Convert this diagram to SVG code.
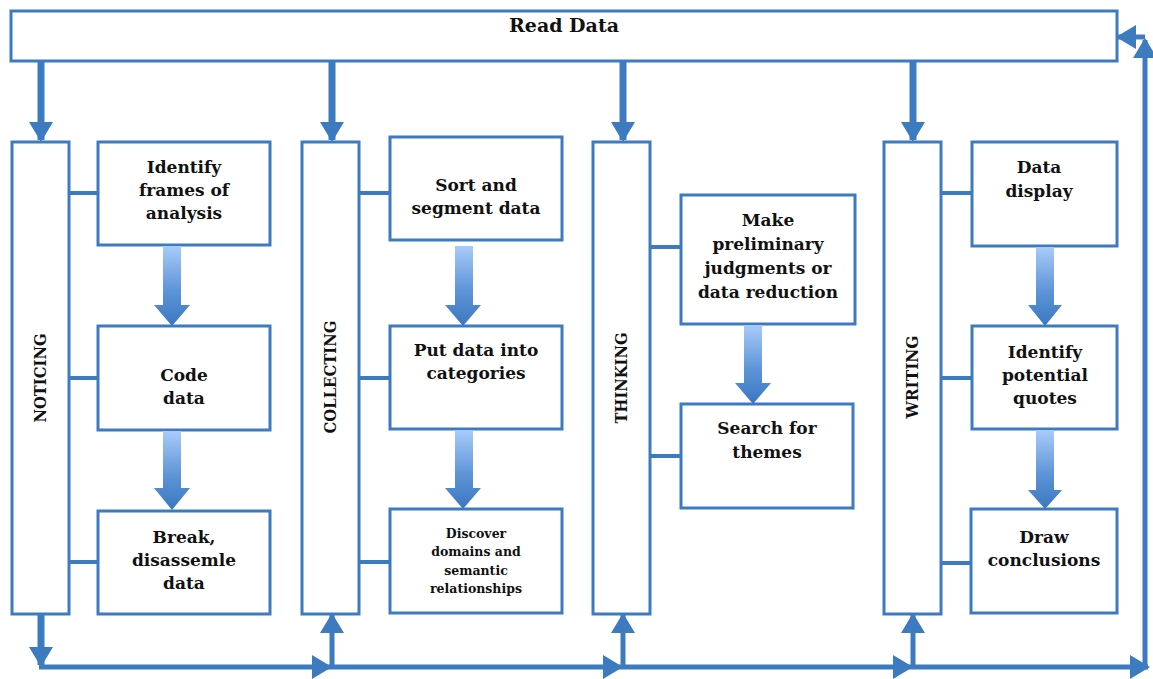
<svg xmlns="http://www.w3.org/2000/svg" width="1153" height="679" viewBox="0 0 1153 679">
  <style>
    .box { fill: #ffffff; stroke: #3d7bc1; stroke-width: 3; }
    .lbl { font-family: "DejaVu Serif", "Liberation Serif", serif; font-weight: bold; font-size: 17px; fill: #111111; text-anchor: middle; }
    .title { font-size: 19px; }
    .small { font-size: 12.5px; }
    .col { font-family: "DejaVu Serif", "Liberation Serif", serif; font-weight: bold; font-size: 17px; fill: #111111; text-anchor: middle; }
    .link { stroke: #3d7bc1; stroke-width: 4; fill: none; }
    .flow { stroke: #3d7bc1; stroke-width: 5; fill: none; }
    .feed { stroke: #3d7bc1; stroke-width: 7; fill: none; }
    .grad { fill: url(#stepGrad); }
  </style>
  <defs>
    <linearGradient id="stepGrad" x1="0" y1="0" x2="0" y2="1">
      <stop offset="0" stop-color="#a9cbfa"/>
      <stop offset="0.55" stop-color="#5f95d8"/>
      <stop offset="1" stop-color="#3a77c0"/>
    </linearGradient>
    <marker id="head" markerUnits="userSpaceOnUse" markerWidth="20" markerHeight="24" viewBox="0 0 20 24" refX="18" refY="12" orient="auto">
      <path d="M0,0 L20,12 L0,24 Z" fill="#3d7bc1"/>
    </marker>
  </defs>

  <!-- top: read data -->
  <g id="read-data">
    <rect class="box" x="11" y="11" width="1106" height="50"/>
    <text class="lbl title" x="564" y="32">Read Data</text>
  </g>

  <!-- phase columns (labels run bottom to top) -->
  <g id="noticing">
    <rect class="box" x="12" y="142" width="57" height="472"/>
    <text class="col" transform="translate(46,378) rotate(-90)" textLength="89" lengthAdjust="spacingAndGlyphs">NOTICING</text>
  </g>
  <g id="collecting">
    <rect class="box" x="302" y="142" width="57" height="472"/>
    <text class="col" transform="translate(336,377) rotate(-90)" textLength="113" lengthAdjust="spacingAndGlyphs">COLLECTING</text>
  </g>
  <g id="thinking">
    <rect class="box" x="593" y="142" width="57" height="472"/>
    <text class="col" transform="translate(627,378) rotate(-90)" textLength="91" lengthAdjust="spacingAndGlyphs">THINKING</text>
  </g>
  <g id="writing">
    <rect class="box" x="884" y="142" width="57" height="472"/>
    <text class="col" transform="translate(918,377) rotate(-90)" textLength="83" lengthAdjust="spacingAndGlyphs">WRITING</text>
  </g>

  <!-- noticing steps -->
  <g id="identify-frames">
    <rect class="box" x="98" y="142" width="172" height="103"/>
    <text class="lbl" x="184" y="173">Identify</text>
    <text class="lbl" x="184" y="196">frames of</text>
    <text class="lbl" x="184" y="219">analysis</text>
  </g>
  <g id="code-data">
    <rect class="box" x="98" y="326" width="172" height="104"/>
    <text class="lbl" x="184" y="381">Code</text>
    <text class="lbl" x="184" y="404">data</text>
  </g>
  <g id="break-data">
    <rect class="box" x="98" y="511" width="172" height="103"/>
    <text class="lbl" x="184" y="543">Break,</text>
    <text class="lbl" x="184" y="566">disassemle</text>
    <text class="lbl" x="184" y="589">data</text>
  </g>

  <!-- collecting steps -->
  <g id="sort-segment">
    <rect class="box" x="390" y="137" width="172" height="103"/>
    <text class="lbl" x="476" y="191">Sort and</text>
    <text class="lbl" x="476" y="214">segment data</text>
  </g>
  <g id="put-categories">
    <rect class="box" x="390" y="326" width="172" height="103"/>
    <text class="lbl" x="476" y="356">Put data into</text>
    <text class="lbl" x="476" y="379">categories</text>
  </g>
  <g id="discover-domains">
    <rect class="box" x="390" y="509" width="172" height="104"/>
    <text class="lbl small" x="476" y="538">Discover</text>
    <text class="lbl small" x="476" y="556">domains and</text>
    <text class="lbl small" x="476" y="575">semantic</text>
    <text class="lbl small" x="476" y="593">relationships</text>
  </g>

  <!-- thinking steps -->
  <g id="preliminary">
    <rect class="box" x="681" y="195" width="174" height="129"/>
    <text class="lbl" x="768" y="226">Make</text>
    <text class="lbl" x="768" y="250">preliminary</text>
    <text class="lbl" x="768" y="274">judgments or</text>
    <text class="lbl" x="768" y="298">data reduction</text>
  </g>
  <g id="search-themes">
    <rect class="box" x="681" y="404" width="172" height="104"/>
    <text class="lbl" x="767" y="434">Search for</text>
    <text class="lbl" x="767" y="458">themes</text>
  </g>

  <!-- writing steps -->
  <g id="data-display">
    <rect class="box" x="972" y="142" width="145" height="104"/>
    <text class="lbl" x="1039" y="173">Data</text>
    <text class="lbl" x="1039" y="197">display</text>
  </g>
  <g id="potential-quotes">
    <rect class="box" x="972" y="326" width="145" height="103"/>
    <text class="lbl" x="1045" y="358">Identify</text>
    <text class="lbl" x="1045" y="381">potential</text>
    <text class="lbl" x="1045" y="404">quotes</text>
  </g>
  <g id="draw-conclusions">
    <rect class="box" x="971" y="509" width="146" height="104"/>
    <text class="lbl" x="1044" y="543">Draw</text>
    <text class="lbl" x="1044" y="566">conclusions</text>
  </g>

  <g id="connectors">
    <!-- read data feeds each phase -->
    <line class="feed" x1="41" y1="62" x2="41" y2="140" marker-end="url(#head)"/>
    <line class="feed" x1="332" y1="62" x2="332" y2="140" marker-end="url(#head)"/>
    <line class="feed" x1="623" y1="62" x2="623" y2="140" marker-end="url(#head)"/>
    <line class="feed" x1="913" y1="62" x2="913" y2="140" marker-end="url(#head)"/>

    <!-- phase to step ties -->
    <line class="link" x1="69" y1="193" x2="98" y2="193"/>
    <line class="link" x1="69" y1="378" x2="98" y2="378"/>
    <line class="link" x1="69" y1="562" x2="98" y2="562"/>
    <line class="link" x1="359" y1="193" x2="390" y2="193"/>
    <line class="link" x1="359" y1="378" x2="390" y2="378"/>
    <line class="link" x1="359" y1="562" x2="390" y2="562"/>
    <line class="link" x1="650" y1="247" x2="681" y2="247"/>
    <line class="link" x1="650" y1="456" x2="681" y2="456"/>
    <line class="link" x1="941" y1="193" x2="972" y2="193"/>
    <line class="link" x1="941" y1="378" x2="972" y2="378"/>
    <line class="link" x1="941" y1="563" x2="972" y2="563"/>

    <!-- step to step block arrows -->
    <path class="grad" d="M163,246 H181 V305 H190 L172,326 L154,305 H163 Z"/>
    <path class="grad" d="M163,431 H181 V488 H190 L172,510 L154,488 H163 Z"/>
    <path class="grad" d="M455,246 H473 V305 H481 L463,326 L445,305 H455 Z"/>
    <path class="grad" d="M455,430 H473 V488 H481 L463,509 L445,488 H455 Z"/>
    <path class="grad" d="M744,325 H762 V383 H771 L753,404 L735,383 H744 Z"/>
    <path class="grad" d="M1036,247 H1054 V305 H1062 L1045,326 L1028,305 H1036 Z"/>
    <path class="grad" d="M1036,430 H1054 V490 H1062 L1045,509 L1028,490 H1036 Z"/>

    <!-- loop along the bottom and back up to read data -->
    <line class="feed" x1="41" y1="615" x2="41" y2="665" marker-end="url(#head)"/>
    <line class="flow" x1="39" y1="667" x2="330" y2="667" marker-end="url(#head)"/>
    <line class="flow" x1="330" y1="667" x2="621" y2="667" marker-end="url(#head)"/>
    <line class="flow" x1="621" y1="667" x2="911" y2="667" marker-end="url(#head)"/>
    <line class="flow" x1="911" y1="667" x2="1148" y2="667" marker-end="url(#head)"/>
    <line class="flow" x1="332" y1="667" x2="332" y2="615" marker-end="url(#head)"/>
    <line class="flow" x1="623" y1="667" x2="623" y2="615" marker-end="url(#head)"/>
    <line class="flow" x1="913" y1="667" x2="913" y2="615" marker-end="url(#head)"/>
    <line class="flow" x1="1145" y1="669" x2="1145" y2="40" marker-end="url(#head)"/>
    <line class="flow" x1="1145" y1="37" x2="1118" y2="37" marker-end="url(#head)"/>
  </g>
</svg>
